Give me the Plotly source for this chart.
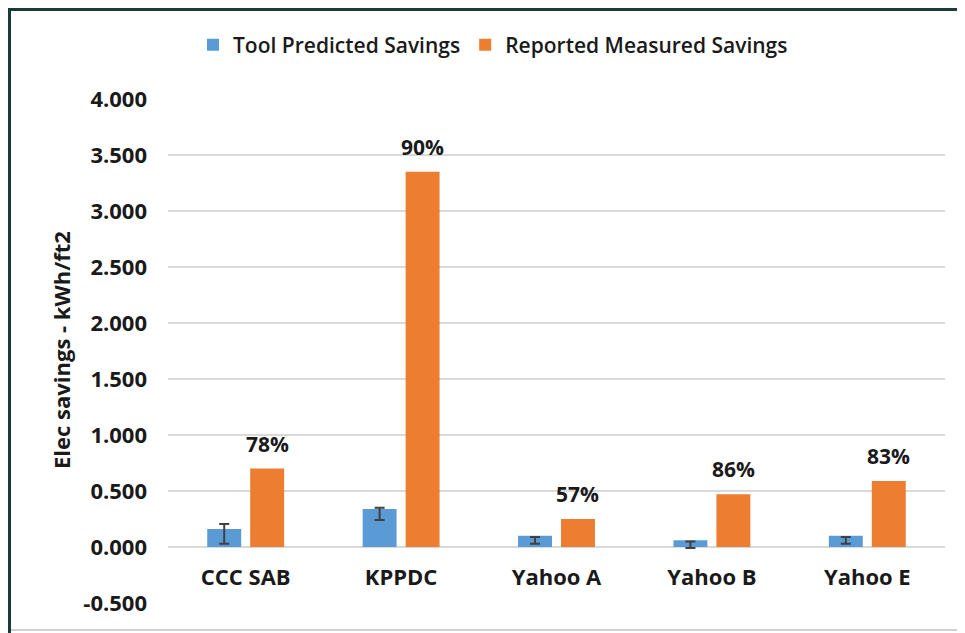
import plotly.graph_objects as go

categories = ["CCC SAB", "KPPDC", "Yahoo A", "Yahoo B", "Yahoo E"]
tool_predicted = [0.16, 0.34, 0.10, 0.06, 0.10]
reported_measured = [0.70, 3.35, 0.25, 0.47, 0.59]
err_low = [0.03, 0.24, 0.03, -0.01, 0.03]
err_high = [0.205, 0.35, 0.09, 0.05, 0.09]
pct_labels = ["78%", "90%", "57%", "86%", "83%"]
ytick_vals = [-0.5, 0.0, 0.5, 1.0, 1.5, 2.0, 2.5, 3.0, 3.5, 4.0]
ytick_text = ["-0.500", "0.000", "0.500", "1.000", "1.500", "2.000", "2.500", "3.000", "3.500", "4.000"]

BLUE = "#5B9BD5"
ORANGE = "#ED7D31"
FONT = "Open Sans"
TXT = "#1a1a1a"
bargap = 0.447
slot = (1 - bargap) / 2
off = slot / 2
xs = list(range(len(categories)))

fig = go.Figure()
fig.add_trace(go.Bar(x=xs, y=tool_predicted, name="Tool Predicted Savings",
                     marker_color=BLUE, marker_line_width=0))
fig.add_trace(go.Bar(x=xs, y=reported_measured, name="Reported Measured Savings",
                     marker_color=ORANGE, marker_line_width=0))
mid = [(h + l) / 2 for h, l in zip(err_high, err_low)]
half = [(h - l) / 2 for h, l in zip(err_high, err_low)]
fig.add_trace(go.Scatter(x=[x - off for x in xs], y=mid, mode="markers",
                         marker=dict(size=1, opacity=0), showlegend=False, hoverinfo="skip",
                         error_y=dict(type="data", array=half, visible=True,
                                      color="#404040", thickness=2, width=5)))

for x, v, t in zip(xs, reported_measured, pct_labels):
    fig.add_annotation(x=x + off, y=v, text="<b>%s</b>" % t, showarrow=False,
                       yshift=25, font=dict(family=FONT, size=21, color=TXT))

# y-axis title
fig.add_annotation(xref="paper", yref="paper", x=(61 - 168) / 777, y=(603 - 350) / 504,
                   xanchor="center", yanchor="middle",
                   text="<b>Elec savings - kWh/ft2</b>", textangle=-90, showarrow=False,
                   font=dict(family=FONT, size=22, color=TXT))

# frame lines (screen pixel positions; page body has an 8px default margin)
TOP_Y = 9.5
LEFT_X = 9.5
fig.add_shape(type="line", xref="paper", yref="paper",
              x0=(LEFT_X - 1.5 - 168) / 777, x1=(975 - 168) / 777,
              y0=(603 - TOP_Y) / 504, y1=(603 - TOP_Y) / 504,
              line=dict(color="#1B3B3B", width=3))
fig.add_shape(type="line", xref="paper", yref="paper",
              x0=(LEFT_X - 168) / 777, x1=(LEFT_X - 168) / 777,
              y0=(603 - TOP_Y) / 504, y1=(603 - 645) / 504,
              line=dict(color="#1B3B3B", width=3))
fig.add_shape(type="line", xref="paper", yref="paper", x0=(11 - 168) / 777, x1=(962 - 168) / 777,
              y0=(603 - 630) / 504, y1=(603 - 630) / 504, line=dict(color="#D0D0D0", width=2))

fig.update_layout(
    width=965, height=633,
    margin=dict(l=160, r=28, t=91, b=38, autoexpand=False),
    paper_bgcolor="white", plot_bgcolor="white",
    barmode="group", bargap=bargap, bargroupgap=0.21,
    font=dict(family=FONT, size=20, color=TXT),
    legend=dict(orientation="h", x=(493 - 168) / 777, xanchor="center",
                y=(603 - 45) / 504, yanchor="middle", bgcolor="rgba(0,0,0,0)",
                font=dict(family=FONT, size=21, color=TXT, weight=600),
                traceorder="normal"),
    xaxis=dict(tickvals=xs, ticktext=["<b>%s</b>" % c for c in categories],
               range=[-0.5, len(categories) - 0.5], showgrid=False, zeroline=False,
               showline=False, ticks="", tickfont=dict(family=FONT, size=22),
               anchor="free", position=(603 - 547) / 504, ticklabelstandoff=15,
               automargin=False),
    yaxis=dict(range=[-0.5, 4.0], tickvals=ytick_vals, ticktext=["<b>%s</b>" % t for t in ytick_text],
               showgrid=True, gridcolor="#D9D9D9", gridwidth=1.5, zeroline=True,
               zerolinecolor="#D9D9D9", zerolinewidth=1.5, showline=False, ticks="",
               ticklabelstandoff=20, tickfont=dict(family=FONT, size=22), automargin=False),
)

fig.write_html("out.html", config={"displayModeBar": False})
